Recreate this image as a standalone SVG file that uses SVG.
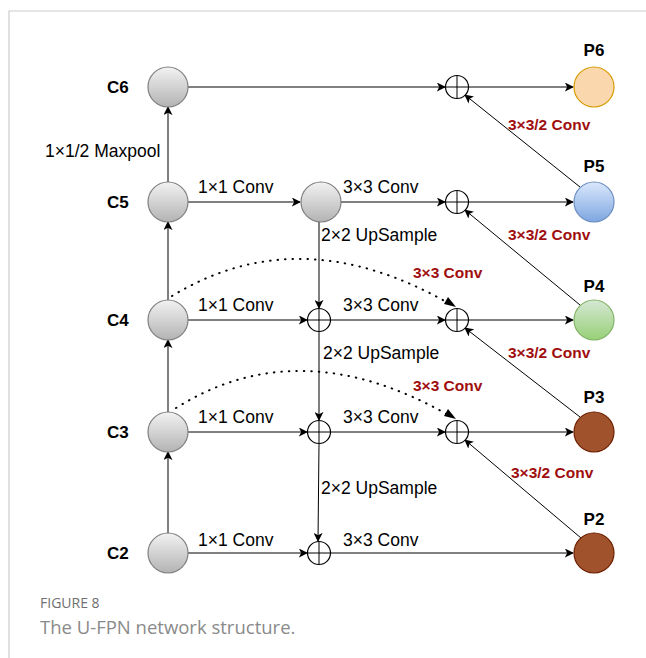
<svg xmlns="http://www.w3.org/2000/svg" width="646" height="658" viewBox="0 0 646 658">
<defs>
<marker id="ah" viewBox="0 0 10 10" refX="9" refY="5" markerWidth="9" markerHeight="9" markerUnits="userSpaceOnUse" orient="auto">
<path d="M0,0 L10,5 L0,10 L2.5,5 Z" fill="#000"/>
</marker>
<linearGradient id="gGray" x1="0" y1="0" x2="0" y2="1"><stop offset="0" stop-color="#f2f2f2"/><stop offset="1" stop-color="#b3b3b3"/></linearGradient>
<linearGradient id="gBlue" x1="0" y1="0" x2="0" y2="1"><stop offset="0" stop-color="#dae8fc"/><stop offset="1" stop-color="#7ea6e0"/></linearGradient>
<linearGradient id="gGreen" x1="0" y1="0" x2="0" y2="1"><stop offset="0" stop-color="#d5e8d4"/><stop offset="1" stop-color="#97d077"/></linearGradient>
</defs>
<style>
.ln{stroke:#000;stroke-width:1;fill:none}
.arr{marker-end:url(#ah)}
.dot{stroke:#000;stroke-width:2;stroke-dasharray:0.5 7;stroke-linecap:round;fill:none}
.cn{fill:url(#gGray);stroke:#7f7f7f;stroke-width:1.2}
.plus{fill:#fff;stroke:#000;stroke-width:1.2}
.lab{font-family:"Liberation Sans",Arial,sans-serif;font-size:17.5px;fill:#000}
.nl{font-family:"Liberation Sans",Arial,sans-serif;font-size:17px;font-weight:bold;fill:#000}
.red{font-family:"Liberation Sans",Arial,sans-serif;font-size:15.5px;font-weight:bold;fill:#a00e0e}
.cap1{font-family:"Open Sans","Noto Sans",sans-serif;font-size:14px;fill:#6f6f6f}
.cap2{font-family:"Open Sans","Noto Sans",sans-serif;font-size:18.5px;fill:#8a8a8a}
</style>
<rect width="646" height="658" fill="#fff"/>
<path d="M9,658 V11 H646" stroke="#cccccc" stroke-width="1.2" fill="none"/>

<g id="connectors">
<line class="ln arr" x1="168" y1="182" x2="168" y2="107"/>
<line class="ln arr" x1="168" y1="300" x2="168" y2="222"/>
<line class="ln arr" x1="168" y1="412" x2="168" y2="340"/>
<line class="ln arr" x1="168" y1="533" x2="168" y2="452"/>
<line class="ln arr" x1="188" y1="87" x2="445" y2="87"/>
<line class="ln arr" x1="469" y1="87" x2="573" y2="87"/>
<line class="ln arr" x1="188" y1="202" x2="300" y2="202"/>
<line class="ln arr" x1="341" y1="202" x2="445" y2="202"/>
<line class="ln arr" x1="469" y1="202" x2="573" y2="202"/>
<line class="ln arr" x1="188" y1="320" x2="307" y2="320"/>
<line class="ln arr" x1="331" y1="320" x2="445" y2="320"/>
<line class="ln arr" x1="469" y1="320" x2="573" y2="320"/>
<line class="ln arr" x1="188" y1="432" x2="307" y2="432"/>
<line class="ln arr" x1="331" y1="432" x2="445" y2="432"/>
<line class="ln arr" x1="469" y1="432" x2="573" y2="432"/>
<line class="ln arr" x1="188" y1="553" x2="307" y2="553"/>
<line class="ln arr" x1="331" y1="553" x2="573" y2="553"/>
<line class="ln arr" x1="319" y1="221" x2="319" y2="308"/>
<line class="ln arr" x1="319" y1="332" x2="319" y2="420"/>
<line class="ln arr" x1="319" y1="444" x2="318" y2="541"/>
<line class="ln arr" x1="580" y1="187" x2="465" y2="95"/>
<line class="ln arr" x1="580" y1="305" x2="465" y2="210"/>
<line class="ln arr" x1="580" y1="417" x2="465" y2="328"/>
<line class="ln arr" x1="581" y1="538" x2="465" y2="440"/>
<path class="dot" d="M172,296 Q300,218 450,304"/>
<path d="M448,297 L456,307 L444,304 Z" fill="#000"/>
<path class="dot" d="M176,408 Q300,330 450,416"/>
<path d="M448,409 L456,419 L444,416 Z" fill="#000"/>
</g>

<g id="C6"><circle class="cn" cx="168" cy="87" r="20"/><text class="nl" x="107" y="93">C6</text></g>
<g id="C5"><circle class="cn" cx="168" cy="202" r="20"/><text class="nl" x="107" y="208">C5</text></g>
<g id="C4"><circle class="cn" cx="168" cy="320" r="20"/><text class="nl" x="107" y="326">C4</text></g>
<g id="C3"><circle class="cn" cx="168" cy="432" r="20"/><text class="nl" x="107" y="438">C3</text></g>
<g id="C2"><circle class="cn" cx="168" cy="553" r="20"/><text class="nl" x="107" y="559">C2</text></g>
<g id="M5"><circle class="cn" cx="321" cy="202" r="20"/></g>

<g id="A6"><circle class="plus" cx="457" cy="87" r="11.5"/><path class="ln" d="M446,87 H468 M457,76 V98"/></g>
<g id="A5"><circle class="plus" cx="457" cy="202" r="11.5"/><path class="ln" d="M446,202 H468 M457,191 V213"/></g>
<g id="A4"><circle class="plus" cx="457" cy="320" r="11.5"/><path class="ln" d="M446,320 H468 M457,309 V331"/></g>
<g id="A3"><circle class="plus" cx="457" cy="432" r="11.5"/><path class="ln" d="M446,432 H468 M457,421 V443"/></g>
<g id="B4"><circle class="plus" cx="319" cy="320" r="11.5"/><path class="ln" d="M308,320 H330 M319,309 V331"/></g>
<g id="B3"><circle class="plus" cx="319" cy="432" r="11.5"/><path class="ln" d="M308,432 H330 M319,421 V443"/></g>
<g id="B2"><circle class="plus" cx="319" cy="553" r="11.5"/><path class="ln" d="M308,553 H330 M319,542 V564"/></g>

<g id="P6"><circle cx="594" cy="87" r="20" fill="#fad7ac" stroke="#d79b00" stroke-width="1.2"/><text class="nl" x="594" y="56" text-anchor="middle">P6</text></g>
<g id="P5"><circle cx="594" cy="202" r="20" fill="url(#gBlue)" stroke="#6c8ebf" stroke-width="1.2"/><text class="nl" x="594" y="172" text-anchor="middle">P5</text></g>
<g id="P4"><circle cx="594" cy="320" r="20" fill="url(#gGreen)" stroke="#82b366" stroke-width="1.2"/><text class="nl" x="594" y="292" text-anchor="middle">P4</text></g>
<g id="P3"><circle cx="594" cy="432" r="20" fill="#a0522d" stroke="#6d1f00" stroke-width="1.2"/><text class="nl" x="594" y="403" text-anchor="middle">P3</text></g>
<g id="P2"><circle cx="594" cy="553" r="20" fill="#a0522d" stroke="#6d1f00" stroke-width="1.2"/><text class="nl" x="594" y="525" text-anchor="middle">P2</text></g>

<g id="labels">
<text class="lab" x="45" y="157">1×1/2 Maxpool</text>
<text class="lab" x="198" y="193">1×1 Conv</text>
<text class="lab" x="343" y="193">3×3 Conv</text>
<text class="lab" x="321" y="241">2×2 UpSample</text>
<text class="lab" x="323" y="359">2×2 UpSample</text>
<text class="lab" x="198" y="311">1×1 Conv</text>
<text class="lab" x="343" y="311">3×3 Conv</text>
<text class="lab" x="198" y="423">1×1 Conv</text>
<text class="lab" x="343" y="423">3×3 Conv</text>
<text class="lab" x="321" y="494">2×2 UpSample</text>
<text class="lab" x="198" y="546">1×1 Conv</text>
<text class="lab" x="343" y="546">3×3 Conv</text>
<text class="red" x="508" y="130">3×3/2 Conv</text>
<text class="red" x="508" y="240">3×3/2 Conv</text>
<text class="red" x="508" y="358">3×3/2 Conv</text>
<text class="red" x="511" y="478">3×3/2 Conv</text>
<text class="red" x="413" y="278">3×3 Conv</text>
<text class="red" x="413" y="391">3×3 Conv</text>
</g>

<text class="cap1" x="40" y="608">FIGURE 8</text>
<text class="cap2" x="40" y="634">The U-FPN network structure.</text>
</svg>
